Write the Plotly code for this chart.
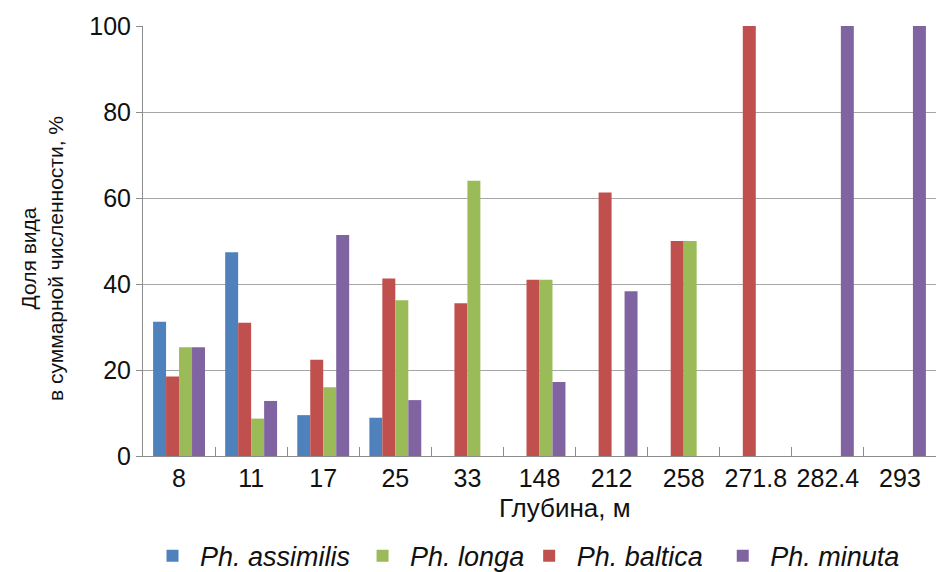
import plotly.graph_objects as go

depths = ["8", "11", "17", "25", "33", "148", "212", "258", "271.8", "282.4", "293"]
assimilis = [31.2, 47.4, 9.5, 8.9, 0, 0, 0, 0, 0, 0, 0]
baltica = [18.5, 31.0, 22.4, 41.3, 35.5, 41.0, 61.3, 50, 100, 0, 0]
longa = [25.3, 8.7, 16.0, 36.2, 64.0, 41.0, 0, 50, 0, 0, 0]
minuta = [25.3, 12.8, 51.4, 13.0, 0, 17.2, 38.3, 0, 0, 100, 100]
y_ticks = [0, 20, 40, 60, 80, 100]

ARIAL = "Liberation Sans, Arial, sans-serif"
NB = "\u00a0"

series = [
    ("Ph. assimilis", assimilis, "#4F81BD", 1, NB),
    ("Ph. baltica", baltica, "#C0504D", 3, NB + NB),
    ("Ph. longa", longa, "#9BBB59", 2, ""),
    ("Ph. minuta", minuta, "#8064A2", 4, ""),
]

fig = go.Figure()
for name, vals, color, rank, tail in series:
    fig.add_trace(go.Bar(
        x=depths, y=vals, name=NB + name + tail, marker_color=color,
        marker_line_width=0, legendrank=rank,
    ))

fig.update_layout(
    width=936, height=572,
    margin=dict(l=143, r=0, t=26, b=116, autoexpand=False),
    paper_bgcolor="white", plot_bgcolor="white",
    barmode="group", bargap=0.28, bargroupgap=0,
    font=dict(family=ARIAL, color="#111111"),
    showlegend=True,
    legend=dict(
        orientation="h", x=0.012, xanchor="left", y=-0.233, yanchor="middle",
        font=dict(family=ARIAL, size=27, style="italic", color="#111111"),
        itemclick=False, traceorder="normal",
    ),
)

fig.update_xaxes(
    type="category", categoryorder="array", categoryarray=depths,
    showline=True, linecolor="#8c8c8c", linewidth=1,
    ticks="inside", tickson="boundaries", ticklen=9, tickcolor="#8c8c8c",
    tickfont=dict(family=ARIAL, size=25, color="#111111"),
    tickangle=0, automargin=False,
    showgrid=False,
)
fig.update_yaxes(
    range=[0, 100], tickvals=y_ticks,
    showline=True, linecolor="#8c8c8c", linewidth=1,
    ticks="outside", ticklen=6, tickcolor="#8c8c8c",
    tickfont=dict(family=ARIAL, size=25, color="#111111"),
    automargin=False,
    showgrid=True, gridcolor="#a6a6a6", gridwidth=1,
    zeroline=False,
)

fig.add_annotation(
    text="Доля вида<br>в суммарной численности, %",
    xref="paper", yref="paper", x=0, y=0.5, xanchor="center", yanchor="middle",
    xshift=-101, yshift=-18, textangle=-90, showarrow=False,
    font=dict(family=ARIAL, size=21, color="#111111"),
)
fig.add_annotation(
    text="Глубина, м",
    xref="paper", yref="paper", x=0.5, y=0, xanchor="center", yanchor="middle",
    xshift=25, yshift=-52, showarrow=False,
    font=dict(family=ARIAL, size=26, color="#111111"),
)

fig.write_html("out.html", config={"displayModeBar": False},
               post_script="document.body.style.margin='0';")
